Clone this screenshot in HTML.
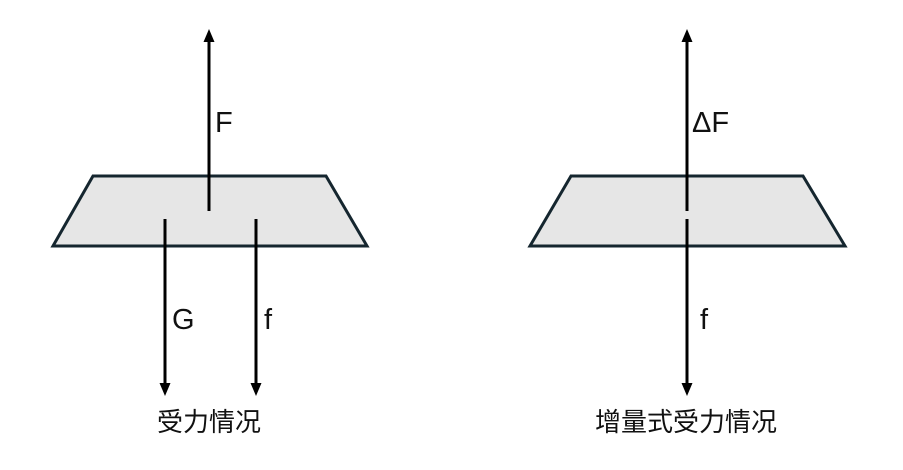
<!DOCTYPE html>
<html><head><meta charset="utf-8"><style>
html,body{margin:0;padding:0;background:#fff;}
svg{display:block;}
text{font-family:"Liberation Sans","Noto Sans CJK SC",sans-serif;fill:#111;}
</style></head><body>
<svg width="903" height="470" viewBox="0 0 903 470" xmlns="http://www.w3.org/2000/svg">
<polygon points="93,176 326,176 367,246 53,246" fill="#e6e6e6" stroke="#15262f" stroke-width="3" stroke-linejoin="miter"/>
<polygon points="571,176 803,176 845,246 530,246" fill="#e6e6e6" stroke="#15262f" stroke-width="3" stroke-linejoin="miter"/>
<g stroke="#000" stroke-width="3">
<line x1="209" y1="211" x2="209" y2="40"/>
<line x1="165" y1="219" x2="165" y2="386"/>
<line x1="256" y1="219" x2="256" y2="386"/>
<line x1="687" y1="211" x2="687" y2="40"/>
<line x1="687" y1="219" x2="687" y2="386"/>
</g>
<g fill="#000">
<polygon points="209,29 203.5,42 214.5,42"/>
<polygon points="165,396 159.5,383 170.5,383"/>
<polygon points="256,396 250.5,383 261.5,383"/>
<polygon points="687,29 681.5,42 692.5,42"/>
<polygon points="687,396 681.5,383 692.5,383"/>
</g>
<text x="215" y="132" font-size="29">F</text>
<text x="172" y="329" font-size="29">G</text>
<text x="264" y="329" font-size="29">f</text>
<text x="692" y="132" font-size="29">ΔF</text>
<text x="700" y="329" font-size="29">f</text>
<text x="209" y="431" font-size="26" text-anchor="middle">受力情况</text>
<text x="686" y="431" font-size="26" text-anchor="middle">增量式受力情况</text>
</svg>
</body></html>
